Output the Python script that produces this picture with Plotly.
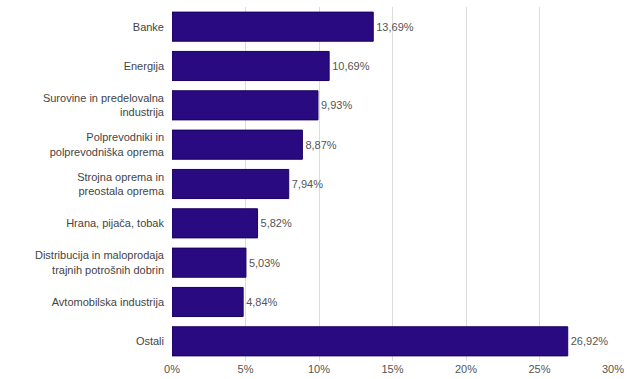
import plotly.graph_objects as go

categories = [
    "Banke",
    "Energija",
    "Surovine in predelovalna<br>industrija",
    "Polprevodniki in<br>polprevodniška oprema",
    "Strojna oprema in<br>preostala oprema",
    "Hrana, pijača, tobak",
    "Distribucija in maloprodaja<br>trajnih potrošnih dobrin",
    "Avtomobilska industrija",
    "Ostali",
]
values = [13.69, 10.69, 9.93, 8.87, 7.94, 5.82, 5.03, 4.84, 26.92]
value_labels = ["13,69%", "10,69%", "9,93%", "8,87%", "7,94%", "5,82%", "5,03%", "4,84%", "26,92%"]
tick_vals = [0, 5, 10, 15, 20, 25, 30]
tick_text = ["0%", "5%", "10%", "15%", "20%", "25%", "30%"]

fig = go.Figure(go.Bar(
    x=values,
    y=categories,
    orientation="h",
    marker=dict(color="#2a0a80", line=dict(color="#1a0060", width=1)),
    width=0.74,
    text=value_labels,
    textposition="outside",
    textfont=dict(size=11, color="#555555", family="Liberation Sans, Arial, sans-serif"),
    cliponaxis=False,
))

fig.update_layout(
    width=630, height=379,
    margin=dict(l=172, r=17, t=7, b=18),
    paper_bgcolor="white",
    plot_bgcolor="white",
    showlegend=False,
    font=dict(family="Liberation Sans, Arial, sans-serif", size=11, color="#555555"),
    xaxis=dict(
        range=[0, 30],
        tickvals=tick_vals,
        ticktext=tick_text,
        showgrid=True,
        gridcolor="#dcdcdc",
        gridwidth=1,
        zeroline=False,
        showline=False,
        ticks="",
        automargin=False,
        tickfont=dict(size=11, color="#555555"),
    ),
    yaxis=dict(
        autorange="reversed",
        showgrid=False,
        ticks="",
        automargin=False,
        ticklabelstandoff=7,
        tickfont=dict(size=11, color="#444444"),
    ),
)

fig.write_html(
    "out.html",
    config={"displayModeBar": False},
    post_script="document.body.style.margin='0';document.body.style.overflow='hidden';",
)
